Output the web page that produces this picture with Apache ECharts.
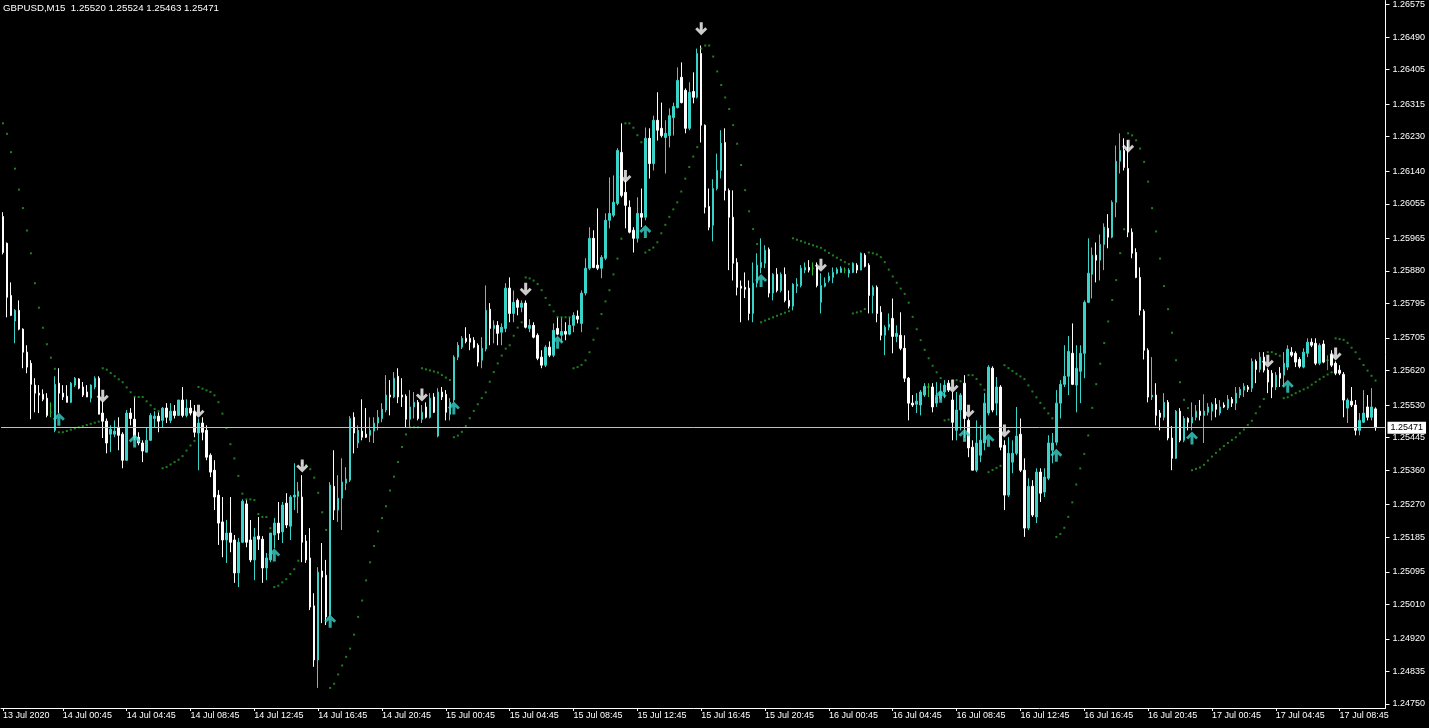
<!DOCTYPE html>
<html>
<head>
<meta charset="utf-8">
<title>GBPUSD,M15</title>
<script src="https://cdn.jsdelivr.net/npm/echarts@6/dist/echarts.min.js"></script>
<style>
  html, body { margin: 0; padding: 0; background: #000; }
  #main { width: 1429px; height: 728px; }
</style>
</head>
<body>
<div id="main"></div>
<script>
// GBPUSD M15 candles, 13 Jul 2020 21:00 .. 17 Jul 2020 11:00 (prices in points, 1 pt = 0.00001)
const symbolName = 'GBPUSD,M15';
const firstDateLabel = '13 Jul 2020';
const startTime = Date.UTC(2020, 6, 13, 21, 0);

const opens = [
  126022,125952,125816,125749,125777,125728,125668,125639,125582,125561,125558,125548,125511,125464,125587,
  125561,125553,125537,125582,125598,125577,125564,125548,125577,125600,125509,125488,125454,125454,125472,
  125454,125386,125509,125493,125446,125431,125407,125438,125495,125501,125490,125522,125490,125514,125503,
  125543,125503,125522,125511,125457,125483,125464,125399,125360,125295,125225,125178,125196,125178,125092,
  125172,125272,125178,125126,125188,125180,125105,125126,125191,125222,125199,125274,125214,125290,125292,
  125290,125175,125131,125006,124865,125097,125086,124982,125318,125256,125287,125326,125334,125498,125431,
  125462,125454,125451,125462,125483,125495,125517,125556,125551,125605,125556,125553,125493,125525,125537,
  125493,125525,125498,125551,125449,125564,125558,125506,125543,125655,125681,125704,125704,125699,125686,
  125647,125676,125780,125730,125738,125720,125730,125835,125769,125803,125785,125796,125730,125738,125712,
  125655,125634,125681,125660,125730,125712,125722,125715,125738,125762,125743,125822,125887,125965,125895,
  125887,125913,126012,126025,126056,126189,126085,126046,125986,125965,126030,126020,126226,126160,126273,
  126252,126228,126233,126280,126306,126385,126351,126252,126348,126333,126447,126260,126048,125999,126095,
  126142,126215,126090,126020,125902,125840,125837,125835,125769,125848,125889,125900,125936,125822,125871,
  125829,125871,125803,125788,125840,125842,125882,125889,125887,125889,125798,125840,125855,125863,125874,
  125876,125882,125874,125876,125895,125882,125921,125895,125816,125837,125772,125712,125733,125756,125709,
  125712,125678,125600,125535,125532,125530,125556,125577,125577,125535,125548,125564,125587,125543,125464,
  125517,125587,125490,125420,125360,125399,125431,125509,125626,125535,125577,125425,125295,125381,125404,
  125454,125360,125209,125318,125238,125355,125303,125339,125412,125433,125535,125584,125605,125665,125582,
  125618,125665,125798,125871,125921,125908,125949,125991,125968,126059,126166,126194,126147,125981,125928,
  125863,125775,125673,125551,125556,125509,125498,125537,125444,125391,125514,125438,125495,125483,125498,
  125514,125503,125511,125514,125532,125509,125530,125522,125545,125535,125556,125569,125577,125574,125644,
  125623,125655,125621,125613,125577,125613,125608,125629,125668,125665,125649,125629,125665,125694,125691,
  125639,125689,125647,125660,125639,125621,125610,125522,125540,125530,125464,125485,125525,125498,125520
];
const highs = [
  126033,125954,125850,125780,125803,125730,125686,125647,125600,125582,125571,125561,125537,125605,125626,
  125582,125582,125590,125603,125600,125590,125582,125584,125605,125605,125540,125495,125477,125490,125498,
  125459,125517,125522,125551,125459,125438,125472,125509,125514,125511,125525,125535,125535,125530,125543,
  125577,125545,125543,125530,125495,125498,125477,125404,125386,125308,125290,125230,125290,125191,125183,
  125284,125282,125230,125209,125238,125188,125144,125196,125235,125277,125277,125300,125295,125378,125329,
  125347,125191,125209,125039,125107,125170,125126,125329,125412,125347,125391,125368,125501,125511,125477,
  125545,125522,125498,125498,125517,125535,125608,125595,125616,125626,125600,125558,125569,125564,125543,
  125530,125537,125561,125561,125574,125577,125569,125548,125660,125694,125710,125733,125715,125707,125691,
  125707,125842,125796,125751,125749,125743,125848,125863,125829,125808,125803,125803,125754,125746,125717,
  125673,125686,125696,125743,125759,125759,125746,125759,125772,125777,125829,125913,125994,125986,126043,
  125921,126030,126124,126129,126200,126265,126116,126064,125994,126072,126095,126254,126252,126285,126346,
  126319,126273,126304,126319,126411,126424,126356,126372,126398,126460,126468,126262,126095,126119,126186,
  126247,126252,126095,126090,125913,125855,125876,125855,125902,125926,125965,125947,125941,125874,125887,
  125876,125889,125829,125848,125861,125895,125902,125908,125902,125902,125874,125863,125876,125889,125889,
  125892,125889,125887,125902,125900,125928,125926,125900,125842,125842,125788,125738,125769,125808,125738,
  125772,125712,125603,125556,125561,125569,125587,125587,125587,125590,125587,125595,125595,125564,125564,
  125561,125608,125495,125438,125490,125477,125561,125634,125631,125603,125582,125438,125446,125438,125525,
  125495,125391,125339,125334,125365,125365,125365,125451,125457,125569,125595,125686,125710,125743,125686,
  125686,125803,125965,125941,125954,125975,126004,126028,126064,126207,126239,126226,126220,125991,125939,
  125889,125780,125678,125655,125587,125517,125561,125543,125475,125517,125522,125501,125498,125537,125530,
  125543,125558,125535,125537,125548,125543,125537,125556,125551,125577,125577,125587,125582,125652,125649,
  125668,125668,125626,125621,125616,125629,125668,125686,125681,125670,125655,125678,125704,125704,125704,
  125691,125699,125660,125673,125644,125634,125616,125548,125577,125543,125509,125569,125556,125574,125524
];
const lows = [
  125923,125759,125762,125691,125725,125626,125613,125493,125511,125509,125540,125498,125498,125459,125509,
  125543,125537,125535,125577,125571,125551,125551,125537,125571,125506,125444,125404,125407,125446,125412,
  125365,125384,125477,125438,125425,125381,125407,125436,125472,125459,125472,125483,125483,125495,125503,
  125498,125498,125503,125446,125360,125438,125386,125342,125256,125165,125133,125118,125146,125066,125055,
  125170,125159,125120,125073,125152,125066,125073,125120,125156,125178,125170,125209,125178,125256,125248,
  125120,125118,124995,124847,124792,124961,124956,124977,125230,125225,125204,125308,125329,125404,125418,
  125438,125444,125433,125431,125464,125485,125511,125503,125548,125535,125525,125472,125472,125495,125490,
  125483,125495,125495,125509,125446,125543,125490,125490,125537,125647,125676,125691,125673,125678,125631,
  125626,125670,125686,125691,125686,125686,125720,125746,125746,125764,125772,125730,125720,125704,125647,
  125626,125629,125655,125655,125712,125694,125699,125712,125720,125743,125720,125816,125882,125887,125882,
  125861,125908,125991,126020,126051,126072,125991,125978,125928,125954,125994,126012,126121,126142,126220,
  126228,126134,126202,126233,126304,126317,126239,126247,126317,126330,126215,126030,125986,125957,126090,
  126121,126064,125882,125855,125816,125746,125809,125751,125746,125837,125874,125887,125811,125803,125824,
  125824,125798,125782,125777,125822,125837,125874,125876,125868,125837,125769,125837,125850,125848,125871,
  125876,125874,125863,125874,125874,125882,125889,125769,125769,125746,125699,125660,125725,125665,125694,
  125673,125590,125490,125525,125509,125503,125551,125551,125511,125525,125543,125548,125564,125438,125438,
  125464,125444,125394,125360,125355,125381,125412,125503,125511,125503,125412,125256,125290,125352,125399,
  125355,125186,125204,125238,125222,125277,125290,125334,125378,125425,125495,125577,125556,125582,125511,
  125535,125600,125796,125808,125850,125855,125882,125939,125965,126020,126134,126142,125968,125913,125861,
  125764,125649,125537,125543,125477,125464,125490,125438,125360,125389,125433,125433,125464,125464,125490,
  125490,125431,125503,125490,125498,125503,125522,125517,125525,125517,125548,125551,125564,125564,125587,
  125615,125615,125561,125548,125569,125577,125577,125621,125655,125629,125626,125626,125655,125681,125634,
  125634,125639,125621,125629,125608,125608,125498,125483,125525,125451,125451,125483,125490,125490,125463
];
const closes = [
  125928,125811,125764,125777,125728,125668,125629,125584,125561,125556,125545,125503,125511,125584,125561,
  125551,125537,125587,125600,125574,125556,125551,125582,125600,125506,125488,125431,125467,125462,125451,
  125386,125509,125495,125444,125431,125410,125438,125503,125501,125488,125522,125498,125514,125503,125543,
  125503,125522,125509,125459,125483,125459,125394,125355,125290,125222,125178,125196,125172,125092,125172,
  125279,125172,125126,125186,125180,125105,125131,125196,125222,125196,125269,125217,125290,125295,125305,
  125172,125126,125003,124865,125094,125081,124977,125321,125256,125287,125329,125337,125495,125457,125464,
  125446,125446,125464,125483,125498,125519,125556,125551,125600,125551,125551,125493,125525,125537,125495,
  125511,125498,125548,125511,125564,125551,125511,125537,125655,125686,125704,125696,125694,125681,125642,
  125678,125777,125730,125738,125717,125733,125835,125769,125798,125785,125796,125733,125738,125707,125652,
  125634,125681,125660,125725,125715,125722,125715,125738,125764,125754,125822,125887,125965,125889,125887,
  125915,126012,126030,126059,126194,126077,126051,125981,125965,126030,126020,126226,126160,126273,126247,
  126233,126239,126285,126309,126377,126319,126252,126346,126333,126447,126260,126046,125994,126095,126142,
  126213,126090,126020,125900,125837,125835,125832,125769,125848,125895,125902,125934,125822,125871,125829,
  125871,125803,125788,125845,125845,125887,125889,125882,125887,125842,125842,125848,125866,125876,125884,
  125887,125882,125882,125900,125882,125926,125892,125816,125837,125769,125712,125733,125741,125709,125717,
  125678,125600,125535,125530,125540,125564,125579,125577,125525,125551,125564,125582,125569,125485,125517,
  125556,125495,125418,125360,125431,125438,125535,125629,125517,125577,125420,125295,125404,125404,125449,
  125360,125209,125318,125243,125355,125300,125342,125431,125431,125535,125584,125605,125670,125584,125626,
  125665,125798,125874,125921,125908,125949,125994,125968,126059,126166,126194,126150,125981,125926,125863,
  125777,125673,125551,125556,125503,125498,125537,125444,125391,125514,125438,125495,125485,125498,125514,
  125503,125514,125525,125532,125519,125525,125525,125545,125535,125561,125571,125579,125571,125644,125623,
  125655,125621,125590,125577,125608,125600,125639,125676,125660,125642,125631,125668,125694,125686,125639,
  125686,125642,125647,125634,125613,125613,125543,125543,125530,125464,125490,125509,125498,125525,125471
];

// price scale tick labels (right axis)
const yTickLabels = ['1.26575','1.26490','1.26405','1.26315','1.26230','1.26140','1.26055','1.25965',
  '1.25880','1.25795','1.25705','1.25620','1.25530','1.25445','1.25360','1.25270','1.25185','1.25095',
  '1.25010','1.24920','1.24835','1.24750'];

// signal arrows: [bar index, price in points]
const sellArrows = [[25,125553],[49,125514],[75,125371],[105,125556],[131,125832],[156,126126],[175,126512],
  [205,125895],[238,125579],[242,125514],[251,125462],[282,126205],[317,125644],[334,125663]];
const buyArrows = [[14,125493],[33,125436],[68,125139],[82,124966],[113,125522],[139,125694],[161,125983],
  [190,125855],[235,125553],[241,125451],[247,125438],[264,125399],[298,125444],[322,125579]];

// Parabolic SAR settings (trend already running down at the first bar)
const sarStep = 0.02, sarMax = 0.2;
const sarSeed = { sar: 126265, af: 0.08 };

const pt = v => v / 100000;
const fontFamily = "'Liberation Sans', Arial, sans-serif";
const bullColor = '#3ad3c9';
const bearColor = '#ffffff';
const dojiColor = '#33b433';
const sarColor = '#26a026';

// category labels, one per 15 minute bar (+2 empty slots of chart shift)
const months = ['Jan','Feb','Mar','Apr','May','Jun','Jul','Aug','Sep','Oct','Nov','Dec'];
const pad = n => (n < 10 ? '0' : '') + n;
const times = [];
for (let i = 0; i < opens.length + 2; i++) {
  const d = new Date(startTime + i * 15 * 60000);
  times.push(d.getUTCDate() + ' ' + months[d.getUTCMonth()] + ' ' + pad(d.getUTCHours()) + ':' + pad(d.getUTCMinutes()));
}
const showTime = idx => idx === 0 || (idx >= 15 && (idx - 15) % 16 === 0);

const candles = opens.map((o, i) => [pt(o), pt(closes[i]), pt(lows[i]), pt(highs[i])]);

function parabolicSar() {
  const out = [];
  let up = false, sar = sarSeed.sar, ep = lows[0], af = sarSeed.af;
  out.push(sar);
  for (let i = 1; i < highs.length; i++) {
    sar = sar + af * (ep - sar);
    const j = i > 1 ? i - 2 : i - 1;
    if (up) {
      sar = Math.min(sar, lows[i - 1], lows[j]);
      if (lows[i] < sar) { up = false; sar = ep; ep = lows[i]; af = sarStep; }
      else if (highs[i] > ep) { ep = highs[i]; af = Math.min(af + sarStep, sarMax); }
    } else {
      sar = Math.max(sar, highs[i - 1], highs[j]);
      if (highs[i] > sar) { up = true; sar = ep; ep = highs[i]; af = sarStep; }
      else if (lows[i] < ep) { ep = lows[i]; af = Math.min(af + sarStep, sarMax); }
    }
    out.push(sar);
  }
  return out.map((v, i) => [i, pt(v)]);
}

const last = opens.length - 1;
const lastClose = pt(closes[last]);
const header = symbolName + '  ' + [opens[last], highs[last], lows[last], closes[last]].map(v => pt(v).toFixed(5)).join(' ');

const downArrow = 'path://M4.5,0H7.5V7.5L10,5L12,7L6,13L0,7L2,5L4.5,7.5Z';
const upArrow = 'path://M4.5,13H7.5V5.5L10,8L12,6L6,0L0,6L2,8L4.5,5.5Z';

const chart = echarts.init(document.getElementById('main'));
chart.setOption({
  backgroundColor: '#000',
  animation: false,
  title: {
    text: header, left: 3, top: 3, padding: 0,
    textStyle: { color: '#fff', fontSize: 9.7, fontWeight: 'normal', fontFamily }
  },
  grid: { left: -2.5, right: 43.5, top: 0, bottom: 20 },
  xAxis: {
    type: 'category',
    data: times,
    boundaryGap: true,
    axisLine: { show: true, lineStyle: { color: '#fff', width: 1 } },
    axisTick: { show: true, alignWithLabel: true, interval: showTime, length: 3, lineStyle: { color: '#fff' } },
    axisLabel: {
      interval: showTime,
      formatter: (v, i) => (i === 0 ? firstDateLabel : v),
      color: '#fff', fontSize: 9, fontFamily, align: 'left', margin: 3, padding: 0
    },
    splitLine: { show: false }
  },
  yAxis: {
    type: 'value',
    position: 'right',
    min: 1.247396,
    max: 1.265854,
    axisLine: { show: true, lineStyle: { color: '#fff', width: 1 } },
    axisTick: { show: true, length: 4, customValues: yTickLabels.map(Number), lineStyle: { color: '#fff' } },
    axisLabel: {
      customValues: yTickLabels.map(Number),
      formatter: v => v.toFixed(5),
      color: '#fff', fontSize: 9, fontFamily, margin: 7
    },
    splitLine: { show: false }
  },
  series: [
    {
      type: 'candlestick',
      data: candles,
      barWidth: 2,
      itemStyle: {
        color: bullColor, color0: bearColor,
        borderColor: bullColor, borderColor0: bearColor,
        borderColorDoji: dojiColor, borderWidth: 1
      }
    },
    {
      type: 'scatter',
      data: parabolicSar(),
      symbol: 'rect',
      symbolSize: [2, 2],
      itemStyle: { color: sarColor },
      silent: true,
      markLine: {
        silent: true, symbol: 'none', animation: false, precision: 5,
        lineStyle: { color: '#c0c0c0', width: 1, type: 'solid' },
        label: {
          position: 'end', formatter: lastClose.toFixed(5), distance: 2,
          backgroundColor: '#fff', color: '#000', fontSize: 9, fontFamily, padding: [2, 3, 1, 3]
        },
        data: [{ yAxis: lastClose }]
      }
    },
    {
      type: 'scatter',
      data: sellArrows.map(a => [a[0], pt(a[1])]),
      symbol: downArrow,
      symbolSize: [12, 13],
      itemStyle: { color: '#fff' },
      silent: true
    },
    {
      type: 'scatter',
      data: buyArrows.map(a => [a[0], pt(a[1])]),
      symbol: upArrow,
      symbolSize: [12, 13],
      itemStyle: { color: bullColor },
      silent: true
    }
  ]
});
</script>
</body>
</html>
